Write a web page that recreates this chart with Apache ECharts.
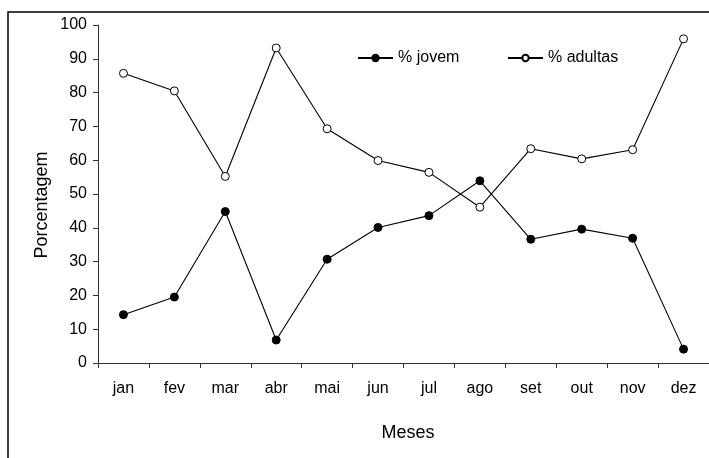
<!DOCTYPE html>
<html>
<head>
<meta charset="utf-8">
<script src="https://cdn.jsdelivr.net/npm/echarts@6/dist/echarts.min.js"></script>
<style>
  html, body { margin: 0; padding: 0; background: #fff; }
  #chart { width: 709px; height: 458px; }
</style>
</head>
<body>
<div id="chart"></div>
<script>
// Monthly share of young vs. adult individuals (%)
const meses = ['jan', 'fev', 'mar', 'abr', 'mai', 'jun', 'jul', 'ago', 'set', 'out', 'nov', 'dez'];
const jovem = [14.3, 19.5, 44.8, 6.8, 30.7, 40.1, 43.6, 53.9, 36.6, 39.6, 36.9, 4.1];
const adultas = [85.7, 80.5, 55.2, 93.2, 69.3, 59.9, 56.4, 46.1, 63.4, 60.4, 63.1, 95.9];
const yTicks = { min: 0, max: 100, interval: 10 };

const font = 'Liberation Sans, Arial, sans-serif';
const chart = echarts.init(document.getElementById('chart'), null, { renderer: 'canvas' });

const legendText = { fontFamily: font, fontSize: 16, color: '#000' };

chart.setOption({
  backgroundColor: '#fff',
  animation: false,
  grid: { left: 98, top: 25, width: 616, bottom: 95, containLabel: false },
  legend: [
    {
      data: ['% jovem'], left: 357, top: 50, padding: 0,
      itemWidth: 35, itemHeight: 8, textStyle: legendText
    },
    {
      data: ['% adultas'], left: 507, top: 50, padding: 0,
      itemWidth: 35, itemHeight: 8, textStyle: legendText
    }
  ],
  xAxis: {
    type: 'category',
    data: meses,
    boundaryGap: true,
    axisLine: { lineStyle: { color: '#333', width: 1 } },
    axisTick: { show: true, length: 5, inside: false, lineStyle: { color: '#333' } },
    axisLabel: { fontFamily: font, fontSize: 16, color: '#000', margin: 18 },
    splitLine: { show: false }
  },
  yAxis: {
    type: 'value',
    min: yTicks.min, max: yTicks.max, interval: yTicks.interval,
    axisLine: { show: true, lineStyle: { color: '#333', width: 1 } },
    axisTick: { show: true, length: 5, lineStyle: { color: '#333' } },
    axisLabel: { fontFamily: font, fontSize: 16, color: '#000', margin: 11 },
    splitLine: { show: false }
  },
  graphic: [
    {
      type: 'rect', silent: true,
      shape: { x: 8, y: 12, width: 900, height: 600 },
      style: { fill: 'none', stroke: '#000', lineWidth: 1.5 }
    },
    {
      type: 'text', silent: true,
      x: 42, y: 205, rotation: Math.PI / 2,
      style: { text: 'Porcentagem', font: '18px ' + font, fill: '#000', align: 'center', verticalAlign: 'middle' }
    },
    {
      type: 'text', silent: true,
      x: 408, y: 433,
      style: { text: 'Meses', font: '18px ' + font, fill: '#000', align: 'center', verticalAlign: 'middle' }
    }
  ],
  series: [
    {
      name: '% jovem',
      type: 'line',
      data: jovem,
      symbol: 'circle',
      symbolSize: 8,
      lineStyle: { color: '#000', width: 1.1 },
      itemStyle: { color: '#000', borderColor: '#000', borderWidth: 1 }
    },
    {
      name: '% adultas',
      type: 'line',
      data: adultas,
      symbol: 'circle',
      symbolSize: 8,
      lineStyle: { color: '#000', width: 1.1 },
      itemStyle: { color: '#fff', borderColor: '#000', borderWidth: 1 }
    }
  ]
});
</script>
</body>
</html>
